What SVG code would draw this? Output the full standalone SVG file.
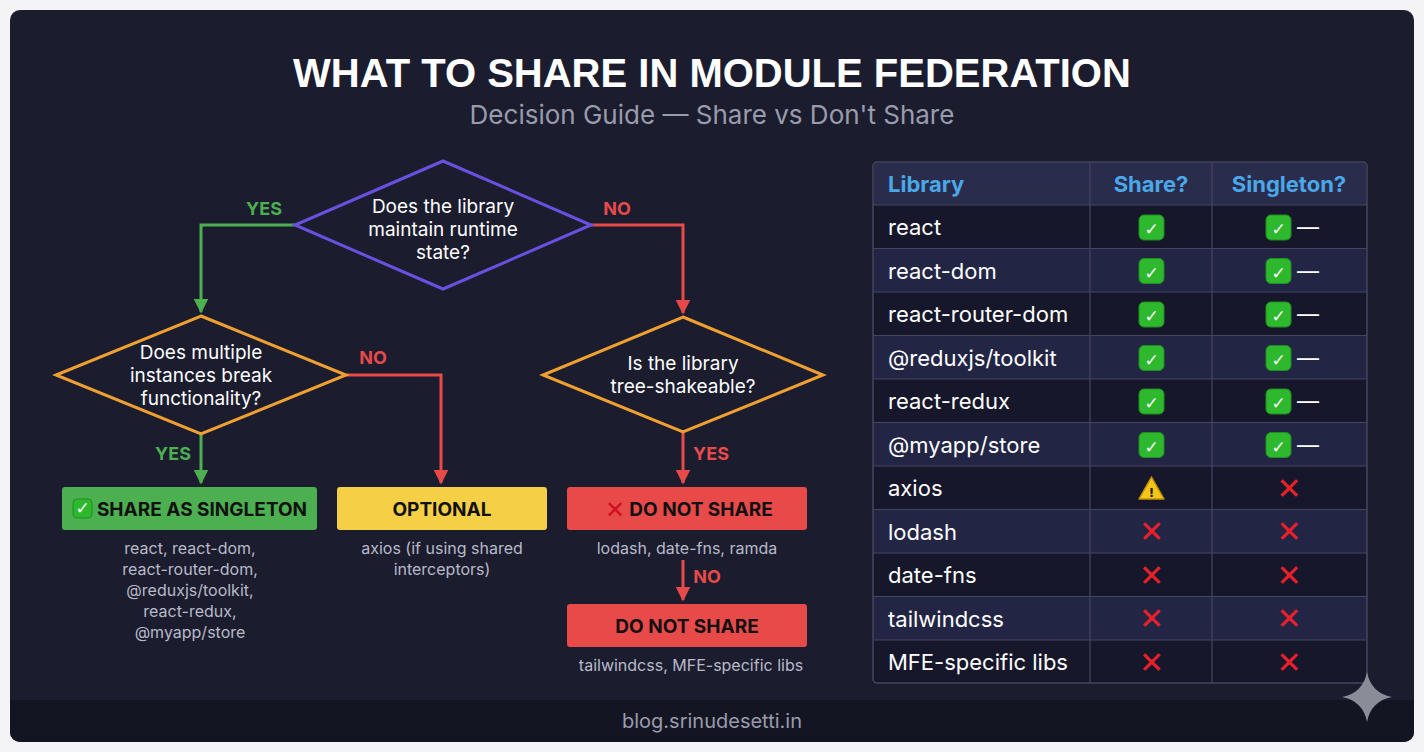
<svg xmlns="http://www.w3.org/2000/svg" width="1424" height="752" viewBox="0 0 1424 752">
<defs>
<style>
.t{font-family:"Liberation Sans",Arial,sans-serif}
.q{font-family:"Inter","Liberation Sans",sans-serif;font-size:19px;fill:#ffffff;text-anchor:middle}
.lbl{font-family:"Inter","Liberation Sans",sans-serif;font-size:18px;font-weight:bold}
.bx{font-family:"Inter","Liberation Sans",sans-serif;font-size:19px;font-weight:bold;text-anchor:middle}
.sub{font-family:"Inter","Liberation Sans",sans-serif;font-size:16px;fill:#b8bac8;text-anchor:middle}
.th{font-family:"Inter","Liberation Sans",sans-serif;font-size:22px;font-weight:bold;fill:#4aa8e8}
.td{font-family:"Inter","Liberation Sans",sans-serif;font-size:22px;fill:#ffffff}
.ck{font-family:"DejaVu Sans",sans-serif;font-size:17px;font-weight:bold;fill:#fff;text-anchor:middle}
.xx{font-family:"DejaVu Sans",sans-serif;font-size:30px;font-weight:bold;fill:#e8202a;text-anchor:middle}
.g{stroke:#4caf50;stroke-width:3;fill:none}
.r{stroke:#e84a4a;stroke-width:3;fill:none}
</style>
<marker id="ag" viewBox="0 0 10 10" refX="9" refY="5" markerWidth="5" markerHeight="5" orient="auto"><path d="M0,0L10,5L0,10z" fill="#4caf50"/></marker>
<marker id="ar" viewBox="0 0 10 10" refX="9" refY="5" markerWidth="5" markerHeight="5" orient="auto"><path d="M0,0L10,5L0,10z" fill="#e84a4a"/></marker>
</defs>
<rect width="1424" height="752" fill="#f4f4f6"/>
<rect x="10" y="10" width="1404" height="732" rx="10" fill="#1b1c2e"/>
<path d="M10,700H1414V732a10,10 0 0 1 -10,10H20a10,10 0 0 1 -10,-10z" fill="#141522"/>
<text x="712" y="87" class="t" font-size="40" font-weight="bold" fill="#fff" text-anchor="middle">WHAT TO SHARE IN MODULE FEDERATION</text>
<text x="712" y="124" font-family="Inter,'Liberation Sans',sans-serif" font-size="26" fill="#9a9cac" text-anchor="middle">Decision Guide — Share vs Don't Share</text>

<g id="connectors">
<path class="g" d="M295,225H201V312" marker-end="url(#ag)"/>
<path class="r" d="M591,225H683V313" marker-end="url(#ar)"/>
<path class="g" d="M201,434V483" marker-end="url(#ag)"/>
<path class="r" d="M346,375H441V483" marker-end="url(#ar)"/>
<path class="r" d="M683,432V483" marker-end="url(#ar)"/>
<path class="r" d="M683,560V600" marker-end="url(#ar)"/>
<text x="264" y="215" class="lbl" fill="#4caf50" text-anchor="middle">YES</text>
<text x="617" y="215" class="lbl" fill="#e84a4a" text-anchor="middle">NO</text>
<text x="173" y="460" class="lbl" fill="#4caf50" text-anchor="middle">YES</text>
<text x="373" y="364" class="lbl" fill="#e84a4a" text-anchor="middle">NO</text>
<text x="711" y="460" class="lbl" fill="#e84a4a" text-anchor="middle">YES</text>
<text x="707" y="583" class="lbl" fill="#e84a4a" text-anchor="middle">NO</text>
</g>

<g id="d1"><path d="M443,161L591,225L443,289L295,225z" fill="#1b1c2e" stroke="#6a50e0" stroke-width="3"/>
<text class="q"><tspan x="443" y="213">Does the library</tspan><tspan x="443" y="236">maintain runtime</tspan><tspan x="443" y="259">state?</tspan></text></g>
<g id="d2"><path d="M201,316L346,375L201,434L56,375z" fill="#1b1c2e" stroke="#f0a030" stroke-width="3"/>
<text class="q"><tspan x="201" y="359">Does multiple</tspan><tspan x="201" y="382">instances break</tspan><tspan x="201" y="405">functionality?</tspan></text></g>
<g id="d3"><path d="M683,317L823,375L683,432L543,375z" fill="#1b1c2e" stroke="#f0a030" stroke-width="3"/>
<text class="q"><tspan x="683" y="370">Is the library</tspan><tspan x="683" y="393">tree-shakeable?</tspan></text></g>

<g id="share"><rect x="62" y="487" width="255" height="43" rx="3" fill="#4caf50"/>
<rect x="73" y="499" width="19" height="19" rx="4" fill="#2db82d" stroke="#1f8f1f"/><text x="82.5" y="514" class="ck">✓</text>
<text x="202" y="516" class="bx" fill="#111">SHARE AS SINGLETON</text>
<text class="sub"><tspan x="190" y="554">react, react-dom,</tspan><tspan x="190" y="575">react-router-dom,</tspan><tspan x="190" y="596">@reduxjs/toolkit,</tspan><tspan x="190" y="617">react-redux,</tspan><tspan x="190" y="638">@myapp/store</tspan></text></g>
<g id="optional"><rect x="337" y="487" width="210" height="43" rx="3" fill="#f5cf45"/>
<text x="442" y="516" class="bx" fill="#111">OPTIONAL</text>
<text class="sub"><tspan x="442" y="554">axios (if using shared</tspan><tspan x="442" y="575">interceptors)</tspan></text></g>
<g id="noshare1"><rect x="567" y="487" width="240" height="43" rx="3" fill="#e84a4a"/>
<text x="615" y="518" font-family="DejaVu Sans,sans-serif" font-size="24" font-weight="bold" fill="#d01020" text-anchor="middle">✕</text>
<text x="701" y="516" class="bx" fill="#111">DO NOT SHARE</text>
<text x="687" y="554" class="sub">lodash, date-fns, ramda</text></g>
<g id="noshare2"><rect x="567" y="604" width="240" height="43" rx="3" fill="#e84a4a"/>
<text x="687" y="633" class="bx" fill="#111">DO NOT SHARE</text>
<text x="691" y="671" class="sub">tailwindcss, MFE-specific libs</text></g>

<g id="table">
<rect x="873" y="162" width="494" height="521" rx="4" fill="#16172a" stroke="#444660" stroke-width="1.5"/>
<rect x="874" y="163" width="492" height="42" fill="#2a2c4c"/>
<g fill="#232545">
<rect x="874" y="248.5" width="492" height="43.5"/><rect x="874" y="335.5" width="492" height="43.5"/><rect x="874" y="422.5" width="492" height="43.5"/><rect x="874" y="509.5" width="492" height="43.5"/><rect x="874" y="596.5" width="492" height="43.5"/>
</g>
<g stroke="#444660" stroke-width="1.2">
<path d="M873,205H1367M873,248.5H1367M873,292H1367M873,335.5H1367M873,379H1367M873,422.5H1367M873,466H1367M873,509.5H1367M873,553H1367M873,596.5H1367M873,640H1367"/>
<path d="M1090,162V683M1212,162V683"/>
</g>
<text x="888" y="192" class="th">Library</text>
<text x="1151" y="192" class="th" text-anchor="middle">Share?</text>
<text x="1289" y="192" class="th" text-anchor="middle">Singleton?</text>
<g class="td">
<text x="888" y="235">react</text><text x="888" y="279">react-dom</text><text x="888" y="322">react-router-dom</text><text x="888" y="366">@reduxjs/toolkit</text><text x="888" y="409">react-redux</text><text x="888" y="453">@myapp/store</text><text x="888" y="496">axios</text><text x="888" y="540">lodash</text><text x="888" y="583">date-fns</text><text x="888" y="627">tailwindcss</text><text x="888" y="670">MFE-specific libs</text>
</g>
<g id="checks">
<g fill="#2db82d" stroke="#1f8f1f">
<rect x="1139" y="215" width="25" height="25" rx="5"/><rect x="1139" y="258.5" width="25" height="25" rx="5"/><rect x="1139" y="302" width="25" height="25" rx="5"/><rect x="1139" y="345.5" width="25" height="25" rx="5"/><rect x="1139" y="389" width="25" height="25" rx="5"/><rect x="1139" y="432.5" width="25" height="25" rx="5"/>
<rect x="1266" y="215" width="25" height="25" rx="5"/><rect x="1266" y="258.5" width="25" height="25" rx="5"/><rect x="1266" y="302" width="25" height="25" rx="5"/><rect x="1266" y="345.5" width="25" height="25" rx="5"/><rect x="1266" y="389" width="25" height="25" rx="5"/><rect x="1266" y="432.5" width="25" height="25" rx="5"/>
</g>
<g class="ck" font-size="22">
<text x="1151.5" y="235">✓</text><text x="1151.5" y="278.5">✓</text><text x="1151.5" y="322">✓</text><text x="1151.5" y="365.5">✓</text><text x="1151.5" y="409">✓</text><text x="1151.5" y="452.5">✓</text>
<text x="1278.5" y="235">✓</text><text x="1278.5" y="278.5">✓</text><text x="1278.5" y="322">✓</text><text x="1278.5" y="365.5">✓</text><text x="1278.5" y="409">✓</text><text x="1278.5" y="452.5">✓</text>
</g>
<g class="td"><text x="1297" y="235">—</text><text x="1297" y="278.5">—</text><text x="1297" y="322">—</text><text x="1297" y="365.5">—</text><text x="1297" y="409">—</text><text x="1297" y="452.5">—</text></g>
<path d="M1151.5,477L1164,499H1139z" fill="#f5c518" stroke="#c09000" stroke-width="1.5" stroke-linejoin="round"/>
<text x="1151.5" y="497" font-family="DejaVu Sans,sans-serif" font-size="13" font-weight="bold" fill="#222" text-anchor="middle">!</text>
<g class="xx">
<text x="1289" y="499">✕</text><text x="1151.5" y="542">✕</text><text x="1289" y="542">✕</text><text x="1151.5" y="586">✕</text><text x="1289" y="586">✕</text><text x="1151.5" y="629">✕</text><text x="1289" y="629">✕</text><text x="1151.5" y="673">✕</text><text x="1289" y="673">✕</text>
</g>
</g>
</g>
<text x="712" y="728" font-family="Inter,'Liberation Sans',sans-serif" font-size="20" fill="#9a9cac" text-anchor="middle">blog.srinudesetti.in</text>
<path d="M1367,672Q1371,693 1392,697Q1371,701 1367,722Q1363,701 1342,697Q1363,693 1367,672z" fill="#8a8c98"/>
</svg>
